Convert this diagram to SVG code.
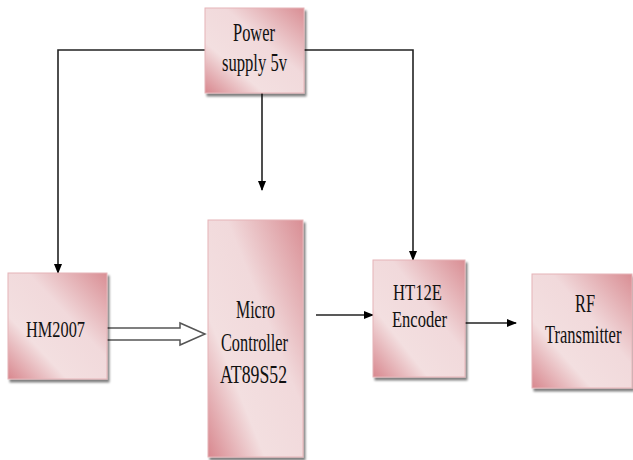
<svg xmlns="http://www.w3.org/2000/svg" width="633" height="460" viewBox="0 0 633 460">
<defs>
<linearGradient id="g2" x1="0" y1="1" x2="1" y2="0">
<stop offset="0" stop-color="#d8878e"/>
<stop offset="0.3" stop-color="#f3dfe0"/>
<stop offset="0.6" stop-color="#f1d9db"/>
<stop offset="1" stop-color="#d98e94"/>
</linearGradient>
<marker id="ah" markerWidth="10" markerHeight="10" refX="9" refY="5" orient="auto" markerUnits="userSpaceOnUse">
<path d="M0,1 L10,5 L0,9 Z" fill="#000"/>
</marker>
<filter id="sh" x="-10%" y="-10%" width="130%" height="130%">
<feGaussianBlur in="SourceAlpha" stdDeviation="1.2"/>
<feOffset dx="2" dy="3"/>
<feComponentTransfer><feFuncA type="linear" slope="0.5"/></feComponentTransfer>
<feMerge><feMergeNode/><feMergeNode in="SourceGraphic"/></feMerge>
</filter>
</defs>
<style>
.box{fill:url(#g2);stroke:#e6b4b8;stroke-width:1;filter:url(#sh)}
.ar{fill:none;stroke:#222;stroke-width:1.6;marker-end:url(#ah)}
</style>
<rect width="633" height="460" fill="#fff"/>
<g id="connectors">
<polyline class="ar" points="205,50 58,50 58,273"/>
<polyline class="ar" points="304,50 413,50 413,260"/>
<line class="ar" x1="262" y1="93" x2="262" y2="190"/>
<line class="ar" x1="316" y1="315" x2="373" y2="315"/>
<line class="ar" x1="465" y1="323" x2="516" y2="323"/>
<path d="M107,328 L180,328 L180,323 L205,334 L180,345 L180,340 L107,340" fill="#fff" stroke="#555" stroke-width="1.5"/>
<line x1="107" y1="334" x2="180" y2="334" stroke="#fff" stroke-width="8"/>
</g>
<g id="power" font-family="Liberation Serif, serif" font-size="25" fill="#111">
<rect class="box" x="205" y="8" width="99" height="85"/>
<text x="233" y="41" textLength="42" lengthAdjust="spacingAndGlyphs">Power</text>
<text x="222" y="71" textLength="65" lengthAdjust="spacingAndGlyphs">supply 5v</text>
</g>
<g id="hm2007" font-family="Liberation Serif, serif" font-size="23" fill="#111">
<rect class="box" x="8" y="273" width="99" height="106"/>
<text x="26" y="337" textLength="59" lengthAdjust="spacingAndGlyphs">HM2007</text>
</g>
<g id="micro" font-family="Liberation Serif, serif" font-size="26" fill="#111">
<rect class="box" x="208" y="220" width="95" height="237"/>
<text x="236" y="318" textLength="39" lengthAdjust="spacingAndGlyphs">Micro</text>
<text x="221" y="351" textLength="67" lengthAdjust="spacingAndGlyphs">Controller</text>
<text x="220" y="383" textLength="67" lengthAdjust="spacingAndGlyphs">AT89S52</text>
</g>
<g id="ht12e" font-family="Liberation Serif, serif" font-size="23" fill="#111">
<rect class="box" x="373" y="260" width="92" height="117"/>
<text x="393" y="300" textLength="49" lengthAdjust="spacingAndGlyphs">HT12E</text>
<text x="392" y="327" textLength="55" lengthAdjust="spacingAndGlyphs">Encoder</text>
</g>
<g id="rf" font-family="Liberation Serif, serif" font-size="26" fill="#111">
<rect class="box" x="532" y="274" width="100" height="114"/>
<text x="575" y="312" textLength="20" lengthAdjust="spacingAndGlyphs">RF</text>
<text transform="translate(545,343) scale(0.635,1)" x="0" y="0">Transmitter</text>
</g>
</svg>
